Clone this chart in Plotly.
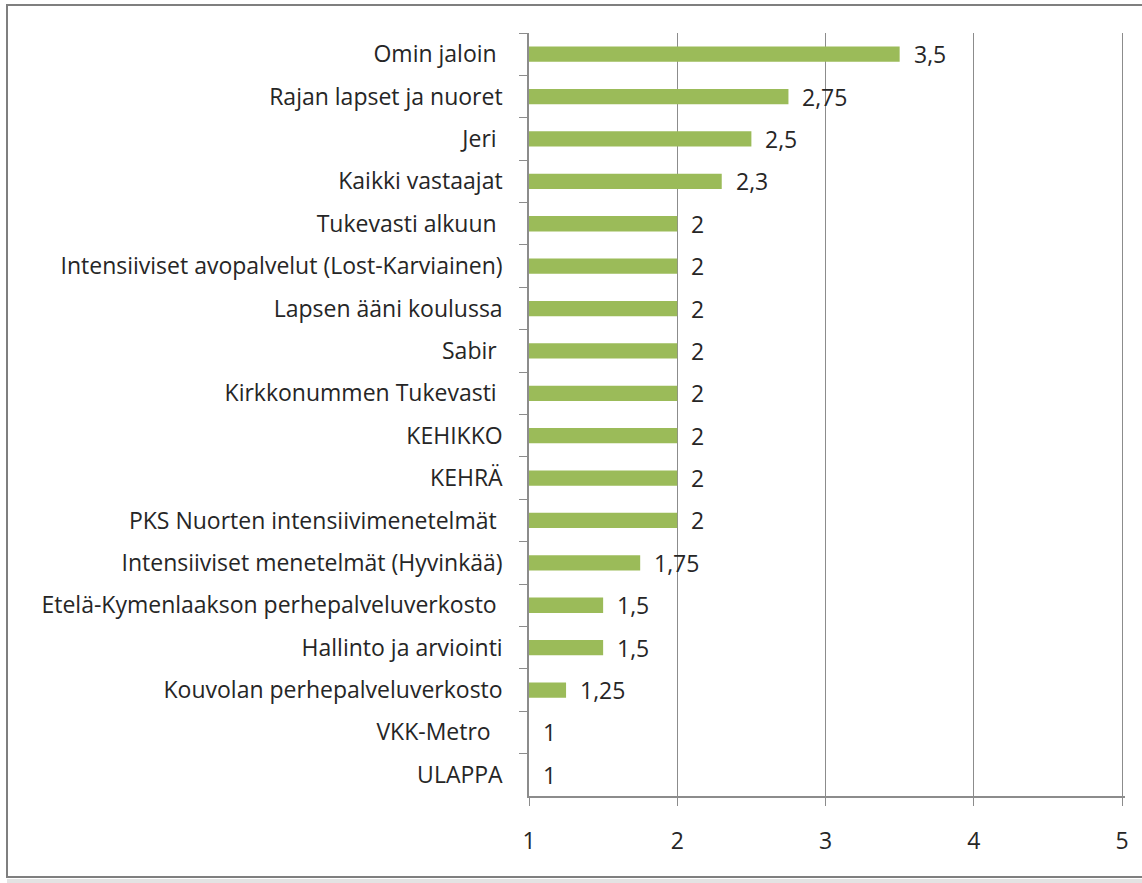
import plotly.graph_objects as go

categories = [
    "Omin jaloin ",
    "Rajan lapset ja nuoret",
    "Jeri ",
    "Kaikki vastaajat",
    "Tukevasti alkuun ",
    "Intensiiviset avopalvelut (Lost-Karviainen)",
    "Lapsen ääni koulussa",
    "Sabir ",
    "Kirkkonummen Tukevasti ",
    "KEHIKKO",
    "KEHRÄ",
    "PKS Nuorten intensiivimenetelmät ",
    "Intensiiviset menetelmät (Hyvinkää)",
    "Etelä-Kymenlaakson perhepalveluverkosto ",
    "Hallinto ja arviointi",
    "Kouvolan perhepalveluverkosto",
    "VKK-Metro  ",
    "ULAPPA",
]
values = [3.5, 2.75, 2.5, 2.3, 2, 2, 2, 2, 2, 2, 2, 2, 1.75, 1.5, 1.5, 1.25, 1, 1]
value_labels = [("%g" % v).replace(".", ",") for v in values]
x_ticks = [1, 2, 3, 4, 5]

FONT = "Open Sans"
FS = 23
TXT = "#262626"
GRID = "#8c8c8c"

fig = go.Figure()
fig.add_trace(go.Bar(
    y=categories,
    x=[v - 1 for v in values],
    base=1,
    orientation="h",
    marker=dict(color="#9BBB59", line=dict(width=0)),
    width=0.36,
    hoverinfo="skip",
))

for c, v, t in zip(categories, values, value_labels):
    fig.add_annotation(x=v, y=c, text=t, showarrow=False, xanchor="left",
                       xshift=12, font=dict(family=FONT, size=FS, color=TXT))

L, R, T, B = 529, 17, 33, 87
W, H = 1142, 883
pw, ph = W - L - R, H - T - B

def px(xp):
    return (xp - L) / pw

def py(yp):
    return (H - B - yp) / ph

# outer frame
fig.add_shape(type="rect", xref="paper", yref="paper",
              x0=px(7), x1=px(1160), y0=py(877), y1=py(5),
              line=dict(color="#7f7f7f", width=2), fillcolor="rgba(0,0,0,0)", layer="below")
fig.add_shape(type="rect", xref="paper", yref="paper",
              x0=px(7), x1=px(1160), y0=py(890), y1=py(879),
              line=dict(width=0), fillcolor="#e3e3e3", layer="below")

fig.update_layout(
    width=W, height=H,
    margin=dict(l=L, r=R, t=T, b=B),
    paper_bgcolor="white", plot_bgcolor="white",
    showlegend=False,
    font=dict(family=FONT, size=FS, color=TXT),
    xaxis=dict(
        range=[1, 5.02], tickvals=x_ticks, ticktext=[str(v) for v in x_ticks],
        showgrid=True, gridcolor=GRID, gridwidth=1,
        showline=True, linecolor=GRID, linewidth=1.5,
        ticks="outside", ticklen=8, tickcolor=GRID,
        zeroline=False, ticklabelstandoff=16,
        tickfont=dict(family=FONT, size=FS, color=TXT),
    ),
    yaxis=dict(
        type="category", categoryorder="array", categoryarray=categories,
        autorange="reversed",
        showgrid=False, showline=True, linecolor=GRID, linewidth=1.5,
        ticks="outside", ticklen=8, tickcolor=GRID, tickson="boundaries",
        ticklabelstandoff=20,
        tickfont=dict(family=FONT, size=FS, color=TXT),
    ),
)

fig.write_html("out.html", config={"displayModeBar": False},
               post_script="document.body.style.margin='0px';")
